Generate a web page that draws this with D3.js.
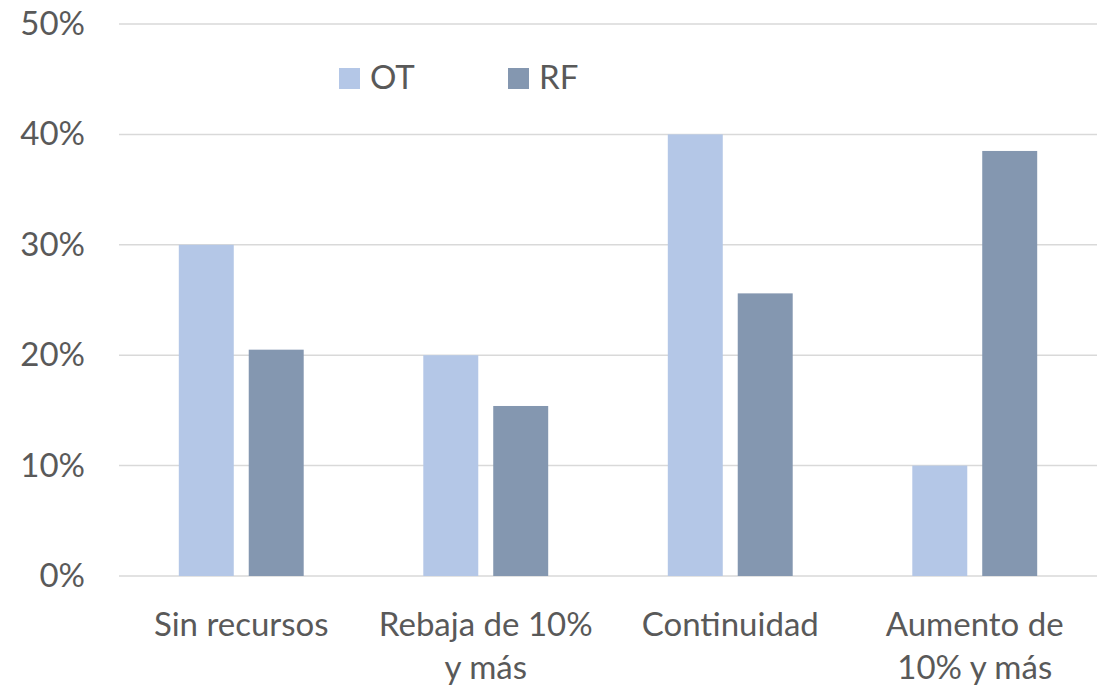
<!DOCTYPE html>
<html>
<head>
<meta charset="utf-8">
<script src="https://cdn.jsdelivr.net/npm/d3@7"></script>
<style>
  body { margin: 0; background: #fff; }
  text { font-family: Lato, "Open Sans", sans-serif; fill: #595959; }
</style>
</head>
<body>
<div id="chart"></div>
<script>
var categories = [["Sin recursos"], ["Rebaja de 10%", "y más"], ["Continuidad"], ["Aumento de", "10% y más"]];
var seriesNames = ["OT", "RF"];
var otValues = [0.30, 0.20, 0.40, 0.10];
var rfValues = [0.205, 0.154, 0.256, 0.385];
var yTicks = [0, 0.1, 0.2, 0.3, 0.4, 0.5];
var colors = ["#b4c7e7", "#8497b0"];

const W = 1109, H = 686;
const margin = { top: 24, right: 12, bottom: 110, left: 119 };
const width = W - margin.left - margin.right;
const height = 576 - margin.top;
const fontSize = 33;

var svg = d3.select("#chart").append("svg")
  .attr("width", W).attr("height", H)
  .append("g")
  .attr("transform", "translate(" + margin.left + "," + margin.top + ")");

var x = d3.scaleBand().domain(d3.range(categories.length)).range([0, width]);
var inner = d3.scaleBand().domain(seriesNames).range([0, x.bandwidth()]).paddingInner(0.214).paddingOuter(0.855);
var y = d3.scaleLinear().domain([0, 0.5]).range([height, 0]);

// gridlines
svg.append("g").selectAll("line").data(yTicks).join("line")
  .attr("x1", 0).attr("x2", width)
  .attr("y1", d => y(d)).attr("y2", d => y(d))
  .attr("stroke", "#d9d9d9").attr("stroke-width", 1.5);

// y axis labels
var yAxis = d3.axisLeft(y).tickValues(yTicks).tickFormat(d3.format(".0%")).tickSize(0).tickPadding(34);
svg.append("g").call(yAxis)
  .call(g => g.select(".domain").remove())
  .selectAll("text").attr("font-size", fontSize).style("fill", "#595959")
  .style("font-family", "Lato, 'Open Sans', sans-serif");

// bars
var data = categories.map((c, i) => ({ i: i, vals: [otValues[i], rfValues[i]] }));
var groups = svg.append("g").selectAll("g").data(data).join("g")
  .attr("transform", d => "translate(" + x(d.i) + ",0)");
groups.selectAll("rect").data(d => d.vals.map((v, k) => ({ k: k, v: v }))).join("rect")
  .attr("x", d => inner(seriesNames[d.k]))
  .attr("width", inner.bandwidth())
  .attr("y", d => y(d.v))
  .attr("height", d => y(0) - y(d.v))
  .attr("fill", d => colors[d.k]);

// x labels
var xl = svg.append("g").selectAll("text").data(categories).join("text")
  .attr("x", (d, i) => x(i) + x.bandwidth() / 2)
  .attr("y", height + 60)
  .attr("text-anchor", "middle")
  .attr("font-size", fontSize);
xl.selectAll("tspan").data(d => d).join("tspan")
  .attr("x", function () { return d3.select(this.parentNode).attr("x"); })
  .attr("dy", (d, j) => j === 0 ? 0 : 43)
  .text(d => d);

// legend
var legendX = [220, 389];
var legend = svg.append("g").selectAll("g").data(seriesNames).join("g")
  .attr("transform", (d, i) => "translate(" + legendX[i] + ",44)");
legend.append("rect").attr("width", 21).attr("height", 21).attr("fill", (d, i) => colors[i]);
legend.append("text").attr("x", 31).attr("y", 21).attr("font-size", fontSize).text(d => d);
</script>
</body>
</html>
